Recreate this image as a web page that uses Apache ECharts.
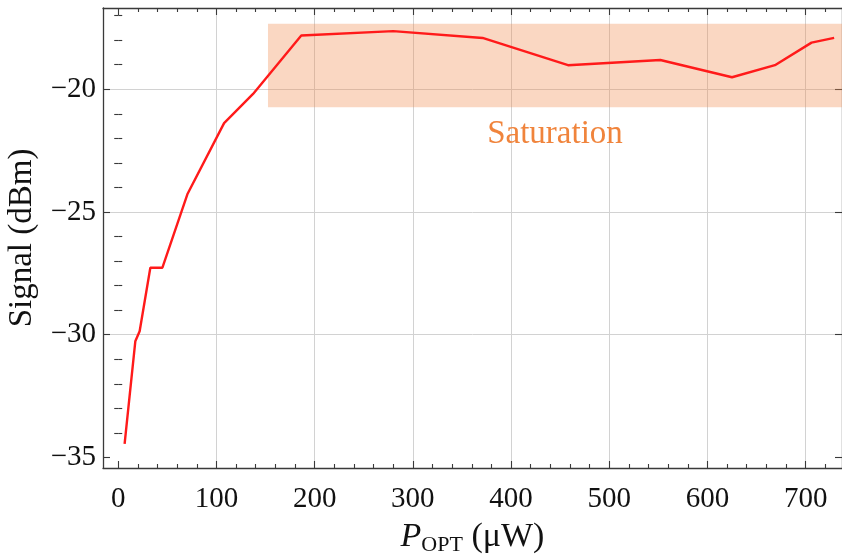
<!DOCTYPE html>
<html>
<head>
<meta charset="utf-8">
<script src="https://cdn.jsdelivr.net/npm/echarts@6/dist/echarts.min.js"></script>
<style>
  html, body { margin: 0; padding: 0; background: #fff; }
  #chart { width: 842px; height: 557px; }
</style>
</head>
<body>
<div id="chart"></div>
<script>
    var powerUW = [6.5, 17.4, 21.8, 32.7, 45, 70.4, 107.8, 137.3, 186.4, 280, 371, 458, 552, 625, 668.7, 706, 729];
    var signalDBm = [-34.45, -30.27, -29.86, -27.27, -27.27, -24.28, -21.38, -20.19, -17.81, -17.63, -17.91, -19.02, -18.81, -19.51, -19.02, -18.10, -17.91];

    var xMajorTicks = [0, 100, 200, 300, 400, 500, 600, 700];
    var yMajorTicks = [-35, -30, -25, -20];

    // axis ranges as shown in the frame
    var xMin = -15.5, xMax = 737;
    var yMin = -35.43, yMax = -16.69;

    // saturation band
    var satX = [152.5, 737];
    var satY = [-20.73, -17.33];

    var FONT = '"Liberation Serif", "DejaVu Serif", serif';
    var AXIS_COLOR = '#3a3a3a';

    var xMinorTicks = [];
    for (var v = 20; v < xMax; v += 20) { if (v % 100 !== 0) xMinorTicks.push(v); }
    var yMinorTicks = [];
    for (var w = -35; w < yMax; w += 1) { if (w % 5 !== 0) yMinorTicks.push(w); }

    function frameAxis(kind, position, ticks, len, main) {
        var ax = {
            type: 'value', position: position,
            min: kind === 'x' ? xMin : yMin,
            max: kind === 'x' ? xMax : yMax,
            axisLine: main ? { show: true, onZero: false, lineStyle: { color: AXIS_COLOR, width: 1.3 } } : { show: false },
            axisTick: { show: true, inside: true, length: len, customValues: ticks, lineStyle: { color: AXIS_COLOR, width: 1.1 } },
            axisLabel: { show: false },
            splitLine: { show: false }
        };
        return ax;
    }

    var xMain = frameAxis('x', 'bottom', xMajorTicks, 7, true);
    xMain.axisLabel = {
        show: true, customValues: xMajorTicks, margin: 17,
        fontFamily: FONT, fontSize: 29, color: '#111'
    };
    xMain.splitLine = { show: true, showMinLine: false, lineStyle: { color: '#d2d2d2', width: 1 } };
    xMain.name = '{p|P}{sub|OPT}{n| (\u03bcW)}';
    xMain.nameLocation = 'middle';
    xMain.nameGap = 50;
    xMain.nameTextStyle = {
        rich: {
            p: { fontFamily: FONT, fontSize: 34, fontStyle: 'italic', color: '#111' },
            sub: { fontFamily: FONT, fontSize: 22, color: '#111', padding: [16, 0, 0, 0] },
            n: { fontFamily: FONT, fontSize: 34, color: '#111' }
        }
    };

    var yMain = frameAxis('y', 'left', yMajorTicks, 7, true);
    yMain.name = 'Signal (dBm)';
    yMain.nameLocation = 'middle';
    yMain.nameGap = 64;
    yMain.nameTextStyle = { fontFamily: FONT, fontSize: 33, color: '#111' };
    yMain.axisLabel = {
        show: true, customValues: yMajorTicks, margin: 7,
        fontFamily: FONT, fontSize: 29, color: '#111',
        formatter: function (val) { return String(val).replace('-', '\u2212'); }
    };
    yMain.splitLine = { show: true, showMinLine: false, lineStyle: { color: '#d2d2d2', width: 1 } };

    var chart = echarts.init(document.getElementById('chart'));
    chart.setOption({
        animation: false,
        backgroundColor: '#fff',
        grid: { left: 103, top: 8, right: 0, bottom: 89, containLabel: false, outerBoundsMode: 'none' },
        xAxis: [
            xMain,
            frameAxis('x', 'bottom', xMinorTicks, 4, false),
            frameAxis('x', 'top', xMajorTicks, 7, true),
            frameAxis('x', 'top', xMinorTicks, 4, false)
        ],
        yAxis: [
            yMain,
            frameAxis('y', 'left', yMinorTicks, 4, false),
            frameAxis('y', 'right', yMajorTicks, 7, true),
            frameAxis('y', 'right', yMinorTicks, 4, false)
        ],
        series: [{
            type: 'line',
            xAxisIndex: 0,
            yAxisIndex: 0,
            data: powerUW.map(function (x, i) { return [x, signalDBm[i]]; }),
            symbol: 'none',
            lineStyle: { color: '#ff1a1a', width: 2.4 },
            markArea: {
                silent: true,
                itemStyle: { color: 'rgba(240,140,80,0.35)' },
                label: {
                    show: true, position: 'bottom', distance: 11,
                    fontFamily: FONT, fontSize: 33, color: '#f0843c'
                },
                data: [[
                    { name: 'Saturation', xAxis: satX[0], yAxis: satY[1] },
                    { xAxis: satX[1], yAxis: satY[0] }
                ]]
            }
        }]
    });
</script>
</body>
</html>
